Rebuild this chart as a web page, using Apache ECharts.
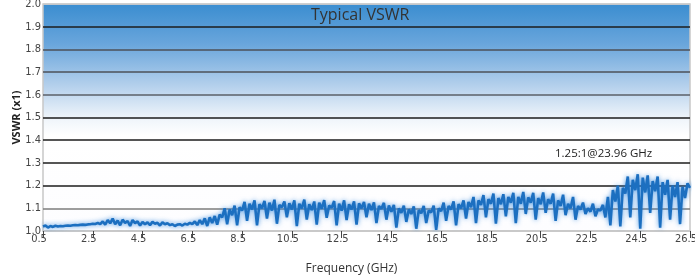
<!DOCTYPE html>
<html>
<head>
<meta charset="utf-8">
<script src="https://cdn.jsdelivr.net/npm/echarts@6/dist/echarts.min.js"></script>
<style>
  html, body { margin: 0; padding: 0; background: #fff; }
  #chart { width: 695px; height: 276px; }
</style>
</head>
<body>
<div id="chart"></div>
<script>
// frequency sweep, 0.5 to 26.5 GHz every 0.1 GHz
const freqStart = 0.5
const freqStep = 0.1
const yTicks = [1.0, 1.1, 1.2, 1.3, 1.4, 1.5, 1.6, 1.7, 1.8, 1.9, 2.0]
const xTickLabels = ['0.5', '2.5', '4.5', '6.5', '8.5', '10.5', '12.5', '14.5', '16.5', '18.5', '20.5', '22.5', '24.5', '26.5']
const chartTitle = 'Typical VSWR'
const peakNote = '1.25:1@23.96 GHz'

// measured VSWR, one row per GHz
const vswr = [
  1.020, 1.024, 1.015, 1.022, 1.018, 1.023, 1.020, 1.022, 1.021, 1.023,
  1.024, 1.023, 1.025, 1.026, 1.025, 1.027, 1.028, 1.027, 1.029, 1.030,
  1.032, 1.031, 1.035, 1.030, 1.042, 1.028, 1.048, 1.034, 1.055, 1.030,
  1.046, 1.025, 1.050, 1.036, 1.044, 1.022, 1.048, 1.035, 1.042, 1.024,
  1.040, 1.030, 1.038, 1.026, 1.040, 1.032, 1.036, 1.024, 1.038, 1.030,
  1.034, 1.026, 1.030, 1.022, 1.028, 1.030, 1.024, 1.032, 1.028, 1.036,
  1.030, 1.042, 1.026, 1.048, 1.030, 1.056, 1.022, 1.060, 1.035, 1.066,
  1.028, 1.072, 1.060, 1.100, 1.030, 1.095, 1.070, 1.112, 1.025, 1.105,
  1.090, 1.128, 1.045, 1.120, 1.095, 1.135, 1.025, 1.118, 1.100, 1.132,
  1.055, 1.125, 1.090, 1.138, 1.032, 1.115, 1.105, 1.130, 1.060, 1.122,
  1.095, 1.135, 1.022, 1.120, 1.100, 1.138, 1.050, 1.118, 1.092, 1.130,
  1.028, 1.125, 1.098, 1.136, 1.058, 1.112, 1.102, 1.132, 1.025, 1.120,
  1.090, 1.135, 1.048, 1.118, 1.095, 1.130, 1.028, 1.122, 1.100, 1.128,
  1.060, 1.120, 1.092, 1.126, 1.035, 1.110, 1.098, 1.124, 1.050, 1.112,
  1.085, 1.115, 1.015, 1.100, 1.080, 1.112, 1.040, 1.095, 1.075, 1.108,
  1.010, 1.092, 1.078, 1.110, 1.035, 1.090, 1.082, 1.112, 1.005, 1.100,
  1.088, 1.125, 1.045, 1.110, 1.095, 1.130, 1.025, 1.118, 1.100, 1.135,
  1.055, 1.128, 1.105, 1.150, 1.035, 1.135, 1.115, 1.158, 1.060, 1.140,
  1.120, 1.165, 1.032, 1.145, 1.118, 1.162, 1.065, 1.150, 1.125, 1.168,
  1.035, 1.150, 1.120, 1.172, 1.075, 1.148, 1.125, 1.168, 1.050, 1.145,
  1.118, 1.170, 1.080, 1.140, 1.120, 1.165, 1.045, 1.135, 1.110, 1.160,
  1.070, 1.120, 1.100, 1.150, 1.050, 1.110, 1.095, 1.125, 1.075, 1.100,
  1.085, 1.120, 1.065, 1.095, 1.090, 1.115, 1.060, 1.150, 1.025, 1.180,
  1.130, 1.200, 1.020, 1.190, 1.165, 1.240, 1.060, 1.225, 1.180, 1.250,
  1.010, 1.235, 1.170, 1.245, 1.080, 1.220, 1.175, 1.240, 1.015, 1.215,
  1.160, 1.225, 1.050, 1.200, 1.150, 1.215, 1.030, 1.195, 1.145, 1.210,
  1.190
]

const freqs = vswr.map((_, i) => (freqStart + i * freqStep).toFixed(1))

// gridline colours, bottom (1.0) to top (2.0)
const gridColors = ['#cccccc', '#7d7d7d', '#1c1c1c', '#1c1c1c', '#1c1c1c', '#1c1c1c',
  '#5b6068', '#4c5158', '#4c5158', '#1c1c1c', '#cccccc']

const labelFont = "'Liberation Sans Narrow', 'DejaVu Sans Condensed', sans-serif"
const textFont = "'Open Sans', sans-serif"

const chart = echarts.init(document.getElementById('chart'))
chart.setOption({
  animation: false,
  grid: {
    left: 43, right: 5, top: 4, bottom: 45,
    outerBoundsMode: 'none',
    containLabel: false,
    show: true,
    borderColor: '#c8c8c8',
    borderWidth: 1.5,
    backgroundColor: new echarts.graphic.LinearGradient(0, 0, 0, 1, [
      { offset: 0, color: '#3a8dd0' },
      { offset: 0.18, color: '#6aa6dc' },
      { offset: 0.36, color: '#b4d0ec' },
      { offset: 0.5, color: '#eef4fa' },
      { offset: 0.58, color: '#ffffff' },
      { offset: 1, color: '#fdfdff' }
    ])
  },
  xAxis: {
    type: 'category',
    data: freqs,
    boundaryGap: false,
    name: 'Frequency (GHz)',
    nameLocation: 'middle',
    nameGap: 32,
    nameTextStyle: { fontFamily: textFont, fontSize: 12, color: '#333', padding: [0, 30, 0, 0] },
    axisLine: { lineStyle: { color: '#c8c8c8', width: 1.5 } },
    axisTick: { interval: 19, length: 7, lineStyle: { color: '#444' } },
    axisLabel: {
      interval: 19,
      margin: 3,
      padding: [0, 8, 0, 0],
      fontFamily: labelFont,
      fontSize: 11,
      color: '#444',
      formatter: v => xTickLabels.includes(v) ? v : ''
    },
    splitLine: { show: false }
  },
  yAxis: {
    type: 'value',
    min: yTicks[0],
    max: yTicks[yTicks.length - 1],
    interval: 0.1,
    name: 'VSWR (x1)',
    nameLocation: 'middle',
    nameGap: 21,
    nameMoveOverlap: false,
    nameTextStyle: { fontFamily: textFont, fontSize: 11, fontWeight: 'bold', color: '#222' },
    axisLine: { show: false },
    axisTick: { show: false },
    axisLabel: {
      margin: 2,
      fontFamily: labelFont,
      fontSize: 11,
      color: '#444',
      formatter: v => v.toFixed(1)
    },
    splitLine: { lineStyle: { color: gridColors, width: 1.5 } }
  },
  graphic: [
    {
      type: 'text', left: 311, top: 7, z: 10,
      style: { text: chartTitle, fontFamily: textFont, fontSize: 16, fill: '#333' }
    },
    {
      type: 'text', left: 555, top: 148, z: 10,
      style: { text: peakNote, fontFamily: textFont, fontSize: 11.5, fill: '#222' }
    }
  ],
  series: [{
    type: 'line',
    data: vswr,
    showSymbol: false,
    lineStyle: {
      color: '#1c6fc0',
      width: 2.6,
      shadowBlur: 5,
      shadowColor: 'rgba(40,130,220,0.8)'
    },
    z: 5
  }]
})
</script>
</body>
</html>
